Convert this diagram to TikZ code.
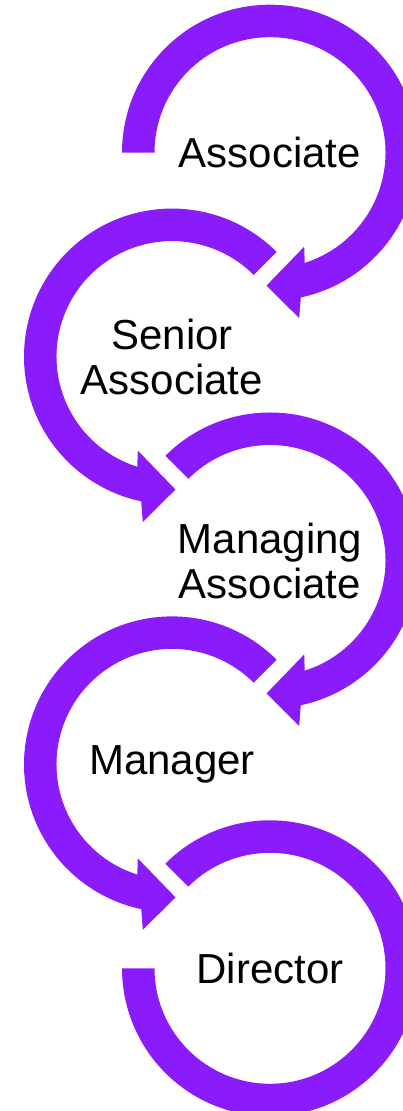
\documentclass[tikz,border=0pt]{standalone}
\usepackage{fontspec}
\setmainfont{Liberation Sans}
\definecolor{bandpurple}{HTML}{8A1CFB}
\tikzset{
  band/.style={fill=bandpurple, draw=none},
  stagetext/.style={font=\fontsize{42}{45}\selectfont, align=center, inner sep=0pt}
}
\begin{document}
\begin{tikzpicture}[x=1pt,y=1pt]
\useasboundingbox (0,0) rectangle (403,1111);
\clip (0,0) rectangle (403,1111);

% centres of the five rings
\coordinate (c1) at (270,958.3);
\coordinate (c2) at (172,754.4);
\coordinate (c3) at (270,550.5);
\coordinate (c4) at (172,346.6);
\coordinate (c5) at (270,142.7);

% rings turning clockwise, arrow at the bottom
\foreach \c/\s in {c1/180, c3/135} {
  \fill[band, shift={(\c)}] (\s:148) arc[start angle=\s, end angle=-78, radius=148]
    -- (-80:168) -- (-91.5:133) -- (-70:100) -- (-72.5:115.5)
    arc[start angle=-72.5, end angle=\s, radius=115.5] -- cycle;
}

% rings turning anticlockwise
\foreach \c in {c2, c4} {
  \fill[band, shift={(\c)}] (45:148) arc[start angle=45, end angle=258, radius=148]
    -- (260:168) -- (271.5:133) -- (250:100) -- (252.5:115.5)
    arc[start angle=252.5, end angle=45, radius=115.5] -- cycle;
}

% last ring, no arrow
\fill[band, shift={(c5)}] (135:148) arc[start angle=135, end angle=-180, radius=148]
  -- (-180:115.5) arc[start angle=-180, end angle=135, radius=115.5] -- cycle;

\node[stagetext] (associate) at (c1) {Associate};
\node[stagetext] (senior) at (c2) {Senior\\Associate};
\node[stagetext] (managing) at (c3) {Managing\\Associate};
\node[stagetext] (manager) at (c4) {Manager};
\node[stagetext] (director) at (c5) {Director};
\end{tikzpicture}
\end{document}
